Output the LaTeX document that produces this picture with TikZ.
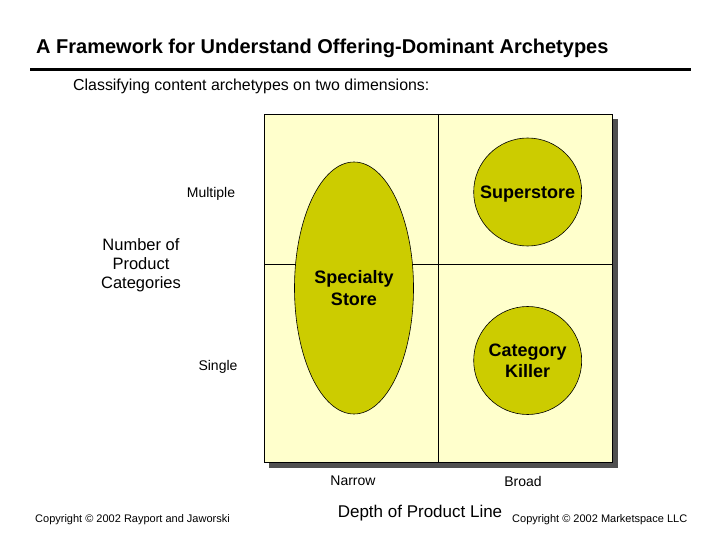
\documentclass[tikz,border=0pt]{standalone}
\usepackage{fontspec}
\setmainfont{Liberation Sans}
\usetikzlibrary{shapes.geometric,positioning}
\definecolor{quadfill}{HTML}{FFFFCC}
\definecolor{archfill}{HTML}{CCCC00}
\definecolor{shadowgray}{HTML}{505050}

\begin{document}
\begin{tikzpicture}[
  x=1pt, y=-1pt,
  every node/.style={inner sep=0pt},
  titletext/.style={font=\bfseries\fontsize{20}{23}\selectfont, anchor=base west},
  subtext/.style={font=\fontsize{15.9}{18}\selectfont, anchor=base west},
  axislab/.style={font=\fontsize{14}{16}\selectfont},
  dimlab/.style={font=\fontsize{16.5}{19}\selectfont, align=center},
  archetype/.style={draw=black, line width=0.6pt, fill=archfill, align=center,
    text depth=0pt, font=\bfseries\fontsize{18}{21.5}\selectfont},
  note/.style={font=\fontsize{11}{13}\selectfont, anchor=base west}
]
\path[use as bounding box] (0,0) rectangle (720,540);

\node[titletext] (title) at (36,54) {A Framework for Understand Offering-Dominant Archetypes};
\draw[line width=3pt] (30,69.8) -- (691,69.8);
\node[subtext] (sub) at (73,91) {Classifying content archetypes on two dimensions:};

% matrix with shadow
\fill[shadowgray] (269,119) rectangle (618,468);
\filldraw[fill=quadfill, draw=black, line width=0.8pt] (264,114) rectangle (612.5,462.5);
\draw[line width=0.8pt] (438.3,114) -- (438.3,462.5);
\draw[line width=0.8pt] (264,264.3) -- (612.5,264.3);

\node[archetype, ellipse, minimum width=119, minimum height=252] (specialty) at (354,288) {Specialty\\Store};
\node[archetype, circle, minimum size=108] (superstore) at (527.7,192) {Superstore};
\node[archetype, circle, minimum size=108] (killer) at (527.7,360.5) {Category\\Killer};

% axis labels
\node[axislab] (multiple) at (211,193.5) {Multiple};
\node[axislab] (single) at (218,367) {Single};
\node[dimlab] (categories) at (141,265) {Number of\\Product\\Categories};
\node[axislab] (narrow) at (353,481) {Narrow};
\node[axislab] (broad) at (523,481) {Broad};
\node[dimlab, font=\fontsize{17}{19}\selectfont] (depth) at (420,513) {Depth of Product Line};

\node[note] (copyleft) at (35,522) {Copyright © 2002 Rayport and Jaworski};
\node[note] (copyright) at (512,522) {Copyright © 2002 Marketspace LLC};
\end{tikzpicture}
\end{document}
